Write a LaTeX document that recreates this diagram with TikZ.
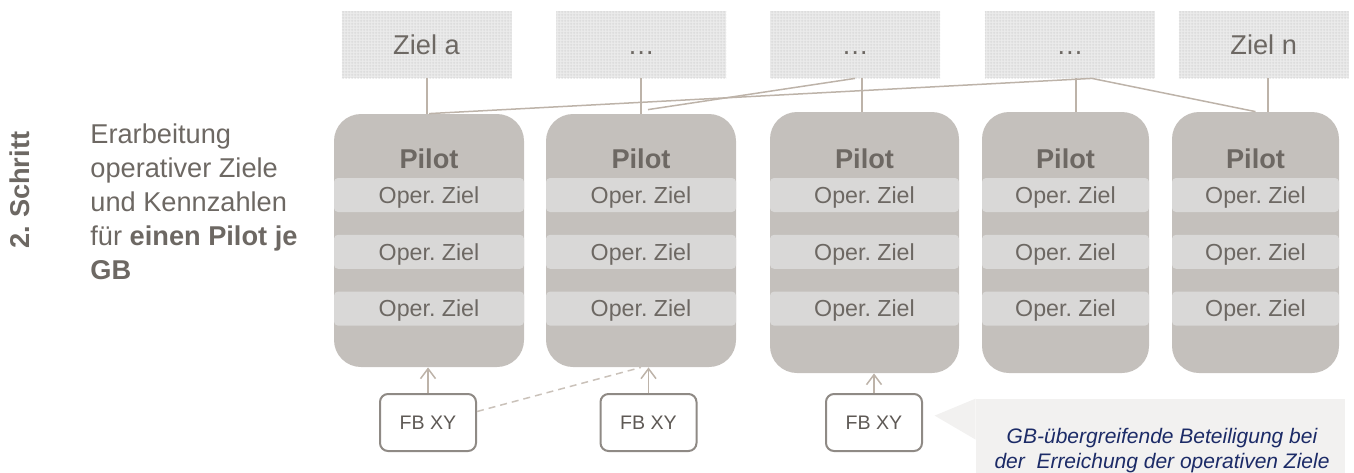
\documentclass[tikz,border=0pt]{standalone}
\usepackage{fontspec}
\setmainfont{Liberation Sans}
\frenchspacing
\usepackage{xcolor}
\definecolor{zgrey}{HTML}{6D6863}
\definecolor{fbtext}{HTML}{5E5955}
\definecolor{pilotgrey}{HTML}{C4C0BC}
\definecolor{bandgrey}{HTML}{D9D8D7}
\definecolor{zielbg}{HTML}{EBEBEB}
\definecolor{zielline}{HTML}{D6D6D6}
\definecolor{linktan}{HTML}{BDB3A9}
\definecolor{fbframe}{HTML}{8F8A85}
\definecolor{notebg}{HTML}{F2F1F0}
\definecolor{notenavy}{HTML}{1C2B67}
\usepackage{tikz}
\usetikzlibrary{positioning, calc, arrows.meta, patterns.meta}

% fine grid texture for the goal boxes
\tikzdeclarepattern{
  name=zielgrid,
  type=uncolored,
  bounding box={(0pt,0pt) and (1.5pt,1.5pt)},
  tile size={(1.5pt,1.5pt)},
  code={\draw[line width=0.3pt] (0pt,0.75pt) -- (1.5pt,0.75pt) (0.75pt,0pt) -- (0.75pt,1.5pt);}
}

\begin{document}
\begin{tikzpicture}[x=0.5pt, y=-0.5pt, font=\fontsize{13.6}{17}\selectfont,
    ziel/.style={fill=zielbg, postaction={pattern=zielgrid, pattern color=zielline}, minimum width=85pt, minimum height=33.5pt, text height=9.7pt, text depth=0pt, text=zgrey},
    pilot/.style={fill=pilotgrey, rounded corners=13.5pt},
    pilottitle/.style={text=zgrey, font=\fontsize{13.6}{17}\selectfont\bfseries},
    op/.style={fill=bandgrey, rounded corners=2pt, minimum height=17pt, text height=8.3pt, text depth=0pt, text=zgrey, font=\fontsize{11.6}{14}\selectfont},
    link/.style={linktan, line width=1pt},
    cross/.style={linktan, line width=0.75pt},
    feed/.style={linktan, line width=0.75pt, -{Straight Barb[length=5pt, width=7.5pt]}},
    fb/.style={draw=fbframe, line width=1pt, rounded corners=4pt, minimum width=48pt, minimum height=28.5pt, text=fbtext, font=\fontsize{9.8}{12}\selectfont}]
    \useasboundingbox (0,0) rectangle (1354,472);

    % Step label and description
    \node[rotate=90, pilottitle] (schritt) at (20,190) {2. Schritt};
    \node[anchor=north west, align=left, inner sep=0pt, text=zgrey] (aufgabe) at (90,123) {Erarbeitung\\operativer Ziele\\und Kennzahlen\\für \textbf{einen Pilot je}\\\textbf{GB}};

    % Goals row
    \node[ziel] (zielA) at (426.5,44.5) {Ziel a};
    \node[ziel, right=22pt of zielA] (zielB) {…};
    \node[ziel, right=21.5pt of zielB] (zielC) {…};
    \node[ziel, right=22pt of zielC] (zielD) {…};
    \node[ziel, right=11.5pt of zielD] (zielE) {Ziel n};

    % Pilot 1
    \node[pilot, minimum width=95pt, minimum height=126.5pt] (pilotA) at (429,240.5) {};
    \node[op, minimum width=95pt] (opA1) at (429,195) {Oper. Ziel};
    \node[op, minimum width=95pt, below=11pt of opA1] (opA2) {Oper. Ziel};
    \node[op, minimum width=95pt, below=11pt of opA2] (opA3) {Oper. Ziel};
    \node[pilottitle, above=1pt of opA1] {Pilot};

    % Pilot 2
    \node[pilot, minimum width=95pt, minimum height=126.5pt] (pilotB) at (641,240.5) {};
    \node[op, minimum width=95pt] (opB1) at (641,195) {Oper. Ziel};
    \node[op, minimum width=95pt, below=11pt of opB1] (opB2) {Oper. Ziel};
    \node[op, minimum width=95pt, below=11pt of opB2] (opB3) {Oper. Ziel};
    \node[pilottitle, above=1pt of opB1] {Pilot};

    % Pilot 3
    \node[pilot, minimum width=94.5pt, minimum height=130.5pt] (pilotC) at (864.5,242.5) {};
    \node[op, minimum width=94.5pt] (opC1) at (864.5,195) {Oper. Ziel};
    \node[op, minimum width=94.5pt, below=11pt of opC1] (opC2) {Oper. Ziel};
    \node[op, minimum width=94.5pt, below=11pt of opC2] (opC3) {Oper. Ziel};
    \node[pilottitle, above=1pt of opC1] {Pilot};

    % Pilot 4
    \node[pilot, minimum width=83.5pt, minimum height=130.5pt] (pilotD) at (1065.5,242.5) {};
    \node[op, minimum width=83.5pt] (opD1) at (1065.5,195) {Oper. Ziel};
    \node[op, minimum width=83.5pt, below=11pt of opD1] (opD2) {Oper. Ziel};
    \node[op, minimum width=83.5pt, below=11pt of opD2] (opD3) {Oper. Ziel};
    \node[pilottitle, above=1pt of opD1] {Pilot};

    % Pilot 5
    \node[pilot, minimum width=83.5pt, minimum height=130.5pt] (pilotE) at (1255.5,242.5) {};
    \node[op, minimum width=83.5pt] (opE1) at (1255.5,195) {Oper. Ziel};
    \node[op, minimum width=83.5pt, below=11pt of opE1] (opE2) {Oper. Ziel};
    \node[op, minimum width=83.5pt, below=11pt of opE2] (opE3) {Oper. Ziel};
    \node[pilottitle, above=1pt of opE1] {Pilot};

    % Goals to pilots
    \draw[link] (zielA) -- (zielA |- pilotA.north);
    \draw[link] (zielB) -- (zielB |- pilotB.north);
    \draw[link] ([xshift=3.25pt]zielC.south) -- ([xshift=3.25pt]zielC.south |- pilotC.north);
    \draw[link] ([xshift=3.25pt]zielD.south) -- ([xshift=3.25pt]zielD.south |- pilotD.north);
    \draw[link] ([xshift=2.25pt]zielE.south) -- ([xshift=2.25pt]zielE.south |- pilotE.north);

    % cross links
    \coordinate (hubD) at ([xshift=11pt]zielD.south);
    \draw[cross] (pilotA.north) -- (hubD) -- (pilotE.north);
    \draw[cross] ([shift={(3.5pt,2pt)}]pilotB.north) -- (zielC.south);

    % Departments
    \node[fb] (fbA) at (428,422.5) {FB XY};
    \node[fb] (fbB) at (648.5,422.5) {FB XY};
    \node[fb] (fbC) at (874,422.5) {FB XY};
    \draw[feed] (fbA) -- (fbA |- pilotA.south);
    \draw[feed] (fbB) -- (fbB |- pilotB.south);
    \draw[feed] (fbC) -- (fbC |- pilotC.south);
    \draw[linktan!80, line width=0.75pt, dash pattern=on 3.5pt off 2.5pt] ([yshift=5.5pt]fbA.east) -- (pilotB.south);

    % Note
    \node[fill=notebg, minimum width=184.5pt, minimum height=45.5pt] (note) at (1160.5,444.5) {};
    \fill[notebg] (note.north west) -- ++(-41,17) -- ([yshift=-20.5pt]note.north west) -- cycle;
    \node[text=notenavy, font=\fontsize{10.5}{12.5}\selectfont\itshape, align=center] at (1162,451) {GB-übergreifende Beteiligung bei\\der~ Erreichung der operativen Ziele};
\end{tikzpicture}
\end{document}
